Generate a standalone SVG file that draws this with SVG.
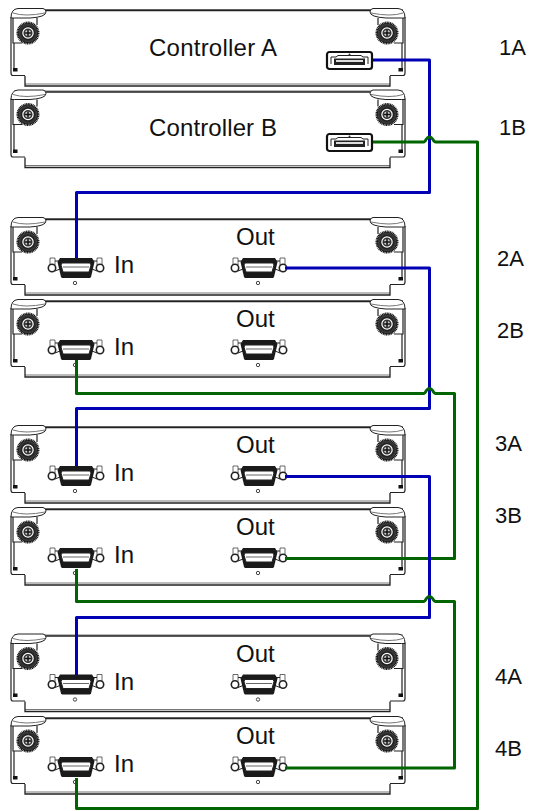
<svg xmlns="http://www.w3.org/2000/svg" width="533" height="811" viewBox="0 0 533 811">
<style>
.t{font-family:"Liberation Sans",Arial,sans-serif;font-size:24px;fill:#111}
.l{font-size:22px}
.o{fill:none;stroke:#222;stroke-width:1.2}
.g{fill:none;stroke:#777;stroke-width:1}
.w{fill:#fff;stroke:#222;stroke-width:1}
.blue{fill:none;stroke:#0000b4;stroke-width:3;stroke-linejoin:round}
.green{fill:none;stroke:#006400;stroke-width:3;stroke-linejoin:round}
</style>
<defs>
<g id="screw">
<circle r="10.300" fill="#444" stroke="#111" stroke-width="2.400" stroke-dasharray="1 0.600"/>
<circle r="8.700" fill="#333"/>
<circle r="6.500" fill="#fff" stroke="#222" stroke-width="1.500"/>
<circle r="3.800" fill="#ccc" stroke="#333" stroke-width="1.500"/>
<path d="M0-3V3M-3 0H3" stroke="#111" stroke-width="1.500"/>
</g>
<g id="mod">
<path class="g" d="M14 1.500H403M25 76H390"/>
<path stroke="#222" fill="none" stroke-width="1.300" d="M46 2.500H370M25 68V78H390V68"/>
<path class="o" d="M11 9V65Q11 67.500 13 67.500H25M405 9V65Q405 67.500 403 67.500H390M14 35V63M402 35V63M13 10V35H22M403 10V35H394M37 10V17M378 10V17"/>
<path class="w" d="M11 10Q11 1 18 0.500H43Q46 1 46 4Q46 9 30 10H20Q14 10 11 10Z"/>
<path class="w" d="M405 10Q405 1 398 0.500H373Q370 1 370 4Q370 9 386 10H396Q402 10 405 10Z"/>
<path class="g" d="M13 5Q25 9 45 5M403 5Q391 9 371 5"/>
<rect x="13" y="60" width="4.500" height="3.500" fill="#111"/>
<rect x="398.500" y="60" width="4.500" height="3.500" fill="#111"/>
<use href="#screw" x="28" y="25"/>
<use href="#screw" x="387" y="25"/>
</g>
<g id="cport">
<rect x="1" y="1" width="45" height="17" rx="2.500" fill="#fff" stroke="#111" stroke-width="2.200"/>
<path d="M5 13V6H10L12 4.500H35L37 6H42V13" fill="none" stroke="#222" stroke-width="1"/>
<rect x="8" y="7.500" width="31" height="6.500" fill="#222"/>
<rect x="10" y="9" width="27" height="2" fill="#ddd"/>
<circle cx="23.500" cy="3.500" r="1" fill="#333"/>
</g>
<g id="dport">
<path d="M-26-10H-21V-3H-26ZM21-10H26V-3H21Z" fill="#fff" stroke="#444" stroke-width="0.800"/>
<path d="M-21-7H-15M21-7H15M-21 3L-16 1M21 3L16 1" stroke="#222" fill="none"/>
<circle cx="-24" cy="0" r="3.700" fill="#fff" stroke="#222" stroke-width="1.600"/>
<circle cx="24" cy="0" r="3.700" fill="#fff" stroke="#222" stroke-width="1.600"/>
<path d="M-16-10H16L18.500-6L15 9L14 10H-14L-15 9L-18.500-6Z" fill="#1a1a1a"/>
<path d="M-14-5H14L15-3L13 4H-13L-15-3Z" fill="#fff" stroke="#222"/>
<path d="M-13-1H13" stroke="#666"/>
<circle cx="-1" cy="15" r="1.700" fill="#fff" stroke="#444"/>
</g>
<g id="drive">
<use href="#mod"/>
<use href="#dport" x="76" y="51"/>
<use href="#dport" x="259" y="51"/>
</g>
</defs>
<g id="controller-a">
<use href="#mod" y="8"/>
<use href="#cport" x="326" y="51"/>
<text class="t" x="149" y="56" textLength="128">Controller A</text>
</g>
<g id="controller-b">
<use href="#mod" y="89.500"/>
<use href="#cport" x="326" y="133"/>
<text class="t" x="149" y="136" textLength="128">Controller B</text>
</g>
<g id="drive-1"><use href="#drive" y="217"/><text class="t" x="114" y="273">In</text><text class="t" x="236" y="245">Out</text></g>
<g id="drive-2"><use href="#drive" y="299"/><text class="t" x="114" y="355">In</text><text class="t" x="236" y="327">Out</text></g>
<g id="drive-3"><use href="#drive" y="425"/><text class="t" x="114" y="481">In</text><text class="t" x="236" y="453">Out</text></g>
<g id="drive-4"><use href="#drive" y="507"/><text class="t" x="114" y="563">In</text><text class="t" x="236" y="535">Out</text></g>
<g id="drive-5"><use href="#drive" y="633.500"/><text class="t" x="114" y="690">In</text><text class="t" x="236" y="662">Out</text></g>
<g id="drive-6"><use href="#drive" y="716"/><text class="t" x="114" y="772">In</text><text class="t" x="236" y="744">Out</text></g>
<g id="connectors">
<path class="blue" d="M373 60H429.500V192.500H76.500V258"/>
<path class="green" d="M373 142H423.500Q425 142 426 139.500Q429.500 134.500 433 139.500Q434 142 436 142H477.500V808.500H76.500V778"/>
<path class="blue" d="M285 268H429.500V408.500H76.500V466"/>
<path class="green" d="M76.500 360V393.500H423.500Q425 393.500 426 391Q429.500 386 433 391Q434 393.500 436 393.500H454.500V558.500H285"/>
<path class="blue" d="M285 476.500H429.500V617.500H76.500V675"/>
<path class="green" d="M76.500 569V601.500H423.500Q425 601.500 426 599Q429.500 594 433 599Q434 601.500 436 601.500H454.500V768H285"/>
</g>
<g id="labels">
<text class="t l" x="499" y="55">1A</text>
<text class="t l" x="499" y="135">1B</text>
<text class="t l" x="497" y="266">2A</text>
<text class="t l" x="497" y="338">2B</text>
<text class="t l" x="495" y="451">3A</text>
<text class="t l" x="495" y="523">3B</text>
<text class="t l" x="495" y="684">4A</text>
<text class="t l" x="495" y="756">4B</text>
</g>
</svg>
